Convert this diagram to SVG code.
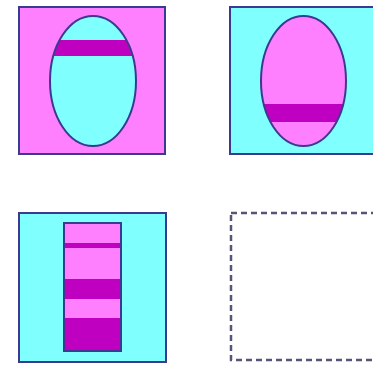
<svg xmlns="http://www.w3.org/2000/svg" width="373" height="365" viewBox="0 0 373 365">
<defs>
<style>
.o{stroke:#3a3a90;stroke-width:2}
.p{fill:#ff80ff}
.c{fill:#80ffff}
.m{fill:#c000c0}
.d{fill:#fff;stroke:#55557a;stroke-width:2.5;stroke-dasharray:6 4}
</style>
<clipPath id="e1"><ellipse cx="93" cy="81" rx="43" ry="65"/></clipPath>
<clipPath id="e2"><ellipse cx="303.5" cy="81" rx="42.5" ry="65"/></clipPath>
</defs>
<rect width="373" height="365" fill="#fff"/>
<g id="panel1">
<rect class="p o" x="19" y="7" width="146" height="147"/>
<ellipse class="c" cx="93" cy="81" rx="43" ry="65"/>
<rect class="m" x="40" y="40" width="110" height="16" clip-path="url(#e1)"/>
<ellipse fill="none" class="o" cx="93" cy="81" rx="43" ry="65"/>
</g>
<g id="panel2">
<rect class="c o" x="230" y="7" width="148" height="147"/>
<ellipse class="p" cx="303.5" cy="81" rx="42.5" ry="65"/>
<rect class="m" x="250" y="104" width="110" height="18" clip-path="url(#e2)"/>
<ellipse fill="none" class="o" cx="303.5" cy="81" rx="42.5" ry="65"/>
</g>
<g id="panel3">
<rect class="c o" x="19" y="213" width="147" height="149"/>
<rect class="p" x="64" y="223" width="57" height="128"/>
<rect class="m" x="64" y="243" width="57" height="5"/>
<rect class="m" x="64" y="279" width="57" height="20"/>
<rect class="m" x="64" y="318" width="57" height="33"/>
<rect fill="none" class="o" x="64" y="223" width="57" height="128"/>
</g>
<g id="panel4">
<rect class="d" x="231" y="213" width="147" height="147"/>
</g>
</svg>
